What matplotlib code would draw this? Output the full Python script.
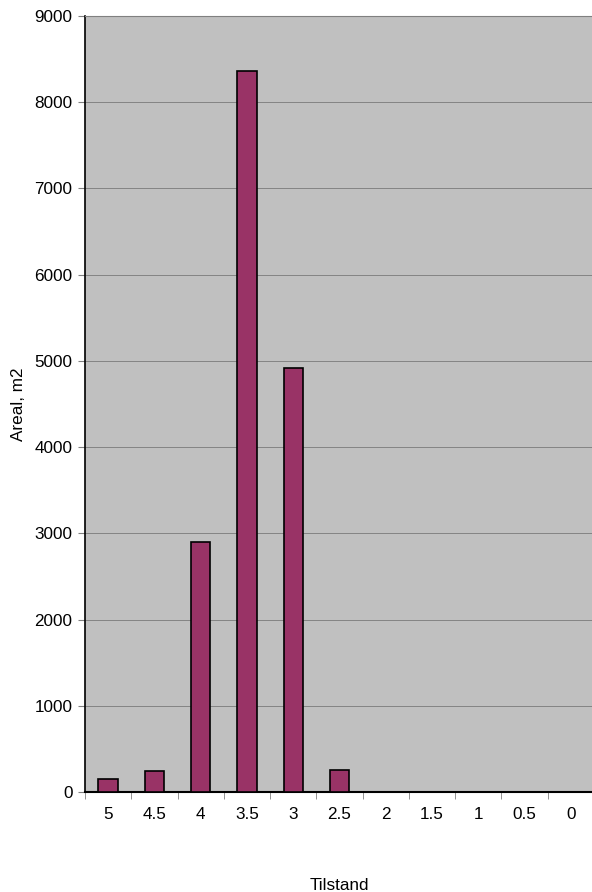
import matplotlib
matplotlib.use("Agg")
import matplotlib.pyplot as plt
import numpy as np

plt.rcParams["font.family"] = ["Liberation Sans", "DejaVu Sans"]

categories = ["5", "4.5", "4", "3.5", "3", "2.5", "2", "1.5", "1", "0.5", "0"]
areal = [147, 244, 2900, 8360, 4915, 255, 0, 0, 0, 0, 0]

fig = plt.figure(figsize=(5.92, 8.92), dpi=100)
ax = fig.add_axes([85 / 592, 1 - 792 / 892, 509 / 592, 776 / 892])
ax.set_facecolor("#C0C0C0")

x = np.arange(len(categories))
ax.bar(x, areal, width=0.42, color="#993366", edgecolor="black", linewidth=1.2, zorder=3)

ax.set_xlim(-0.5, len(categories) - 0.5)
ax.set_ylim(0, 9000)
ax.set_yticks(np.arange(0, 9001, 1000))
ax.yaxis.grid(True, color="#7a7a7a", linewidth=0.6, zorder=1)

fs = 12.3
ax.set_xticks(x)
ax.set_xticklabels(categories, fontsize=fs)
ax.set_xticks(np.arange(-0.5, len(categories), 1), minor=True)
ax.tick_params(axis="x", which="major", length=0, pad=11)
ax.tick_params(axis="x", which="minor", length=5, color="#808080", direction="out")
ax.tick_params(axis="y", labelsize=fs, length=5, color="#808080", pad=4)

ax.spines["right"].set_visible(False)
ax.spines["top"].set_color("#808080")
ax.spines["left"].set_color("black")
ax.spines["bottom"].set_color("black")
ax.spines["left"].set_linewidth(1.2)
ax.spines["bottom"].set_linewidth(1.5)

ax.set_ylabel("Areal, m2", fontsize=fs, labelpad=6)
ax.set_xlabel("Tilstand", fontsize=fs, labelpad=40)

fig.savefig("out.png", dpi=100)
